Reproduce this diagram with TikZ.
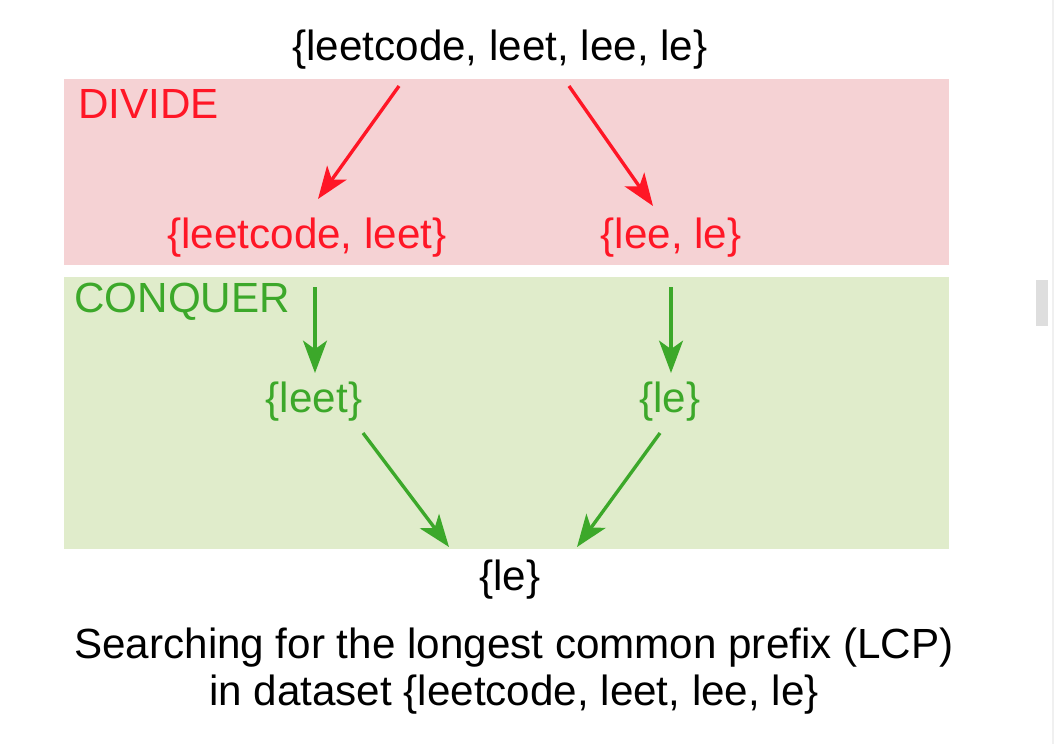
\documentclass[tikz,border=0pt]{standalone}
\usepackage{fontspec}
\setmainfont{Liberation Sans}
\usetikzlibrary{arrows.meta}

\definecolor{divred}{RGB}{255,22,38}
\definecolor{divfill}{RGB}{245,210,212}
\definecolor{conqgreen}{RGB}{60,168,42}
\definecolor{conqfill}{RGB}{224,236,203}

\begin{document}
\begin{tikzpicture}[x=0.025cm,y=-0.025cm,
        txt/.style={inner sep=0pt,font=\fontsize{30}{36}\selectfont},
        arr/.style={line width=2.4pt,-{Stealth[length=23pt,width=17pt,inset=6pt]}}]
                \useasboundingbox (0,0) rectangle (1056,744);
                \fill[divfill] (64,79) rectangle (949,265);
                \fill[conqfill] (64,277) rectangle (949,549);
                \fill[black!13] (1036,280) rectangle (1048,326);
                \draw[black!6,line width=1.5pt] (1053,0) -- (1053,744);
                \begin{scope}[every node/.style={txt}]
                    \node (S) at (500,50) {\{leetcode, leet, lee, le\}};
                    \node (DIV) [divred,anchor=west] at (78,104) {DIVIDE};
                    \node (L) [divred] at (307,238) {\{leetcode, leet\}};
                    \node (R) [divred] at (671,238) {\{lee, le\}};
                    \node (CON) [conqgreen,anchor=west] at (74,302) {CONQUER};
                    \node (L1) [conqgreen] at (314,402) {\{leet\}};
                    \node (R1) [conqgreen] at (670,402) {\{le\}};
                    \node (LCP) at (510,580) {\{le\}};
                    \node (CAP) [align=center] at (514,671) {Searching for the longest common prefix (LCP)\\[-2pt]in dataset \{leetcode, leet, lee, le\}};
                \end{scope}
                % arrow ends
                \coordinate (S1) at (399,86);
                \coordinate (S2) at (569,86);
                \coordinate (L0) at (318,199);
                \coordinate (R0) at (653,206);
                \coordinate (L2) at (315,287);
                \coordinate (L3) at (315,373);
                \coordinate (R2) at (671,287);
                \coordinate (R3) at (671,373);
                \coordinate (L4) at (363,433);
                \coordinate (R4) at (660,433);
                \coordinate (E1) at (449,547);
                \coordinate (E2) at (577,547);
                \begin{scope}[every edge/.style={draw,arr}]
                    \draw (S1) edge [divred] (L0);
                    \draw (S2) edge [divred] (R0);
                    \draw (L2) edge [conqgreen] (L3);
                    \draw (R2) edge [conqgreen] (R3);
                    \draw (L4) edge [conqgreen] (E1);
                    \draw (R4) edge [conqgreen] (E2);
                \end{scope}
            \end{tikzpicture}
\end{document}
